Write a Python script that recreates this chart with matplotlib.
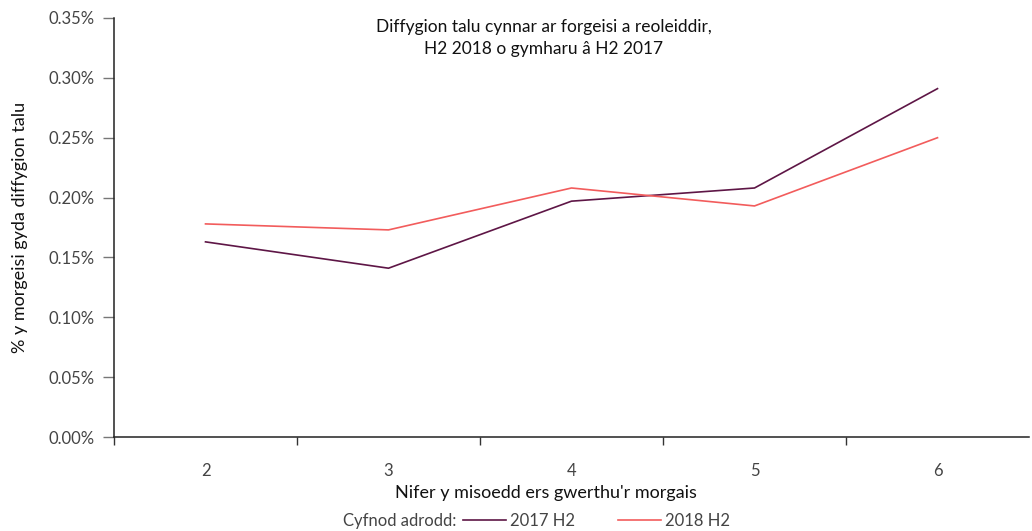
import matplotlib.pyplot as plt
import matplotlib.ticker as mticker
import numpy as np

months = ['2', '3', '4', '5', '6']
arrears_2017 = [0.163, 0.141, 0.197, 0.208, 0.291]
arrears_2018 = [0.178, 0.173, 0.208, 0.193, 0.250]

plt.rcParams['font.family'] = ['Lato', 'DejaVu Sans']

fig = plt.figure(figsize=(10.32, 5.31), dpi=100)
ax = fig.add_axes([114 / 1032, 1 - 437 / 531, (1029 - 114) / 1032, (437 - 18) / 531])

x = np.arange(len(months))
l1, = ax.plot(x, arrears_2017, color='#5e1646', lw=1.2)
l2, = ax.plot(x, arrears_2018, color='#f25c5c', lw=1.2)

ax.set_xlim(-0.5, 4.5)
ax.set_ylim(0, 0.35)
ax.yaxis.set_major_locator(mticker.MultipleLocator(0.05))
ax.yaxis.set_major_formatter(mticker.FuncFormatter(lambda v, p: f'{v:.2f}%'))

ax.set_xticks(x)
ax.set_xticklabels(months)
ax.set_xticks(np.arange(-0.5, 4.0, 1.0), minor=True)
ax.tick_params(axis='x', which='major', length=0, pad=19, labelsize=12, labelcolor='#444444')
ax.tick_params(axis='x', which='minor', length=6, width=1, color='#333333', direction='out')
ax.tick_params(axis='y', length=8, width=1, color='#777777', labelsize=12, labelcolor='#444444', pad=6)

for s in ['top', 'right']:
    ax.spines[s].set_visible(False)
for s in ['left', 'bottom']:
    ax.spines[s].set_color('#222222')
    ax.spines[s].set_linewidth(1.1)

ax.set_ylabel('% y morgeisi gyda diffygion talu', fontsize=13, color='#111111')
ax.yaxis.set_label_coords(-(114 - 28) / 915, 0.5)
ax.set_xlabel("Nifer y misoedd ers gwerthu'r morgais", fontsize=13, color='#111111')
ax.xaxis.set_label_coords((546 - 114) / 915, -(485 - 437) / 419)

fig.text(544 / 1032, 1 - 38 / 531, 'Diffygion talu cynnar ar forgeisi a reoleiddir,\nH2 2018 o gymharu â H2 2017',
         ha='center', va='center', fontsize=12.5, color='#111111', linespacing=1.45)

fig.text(456 / 1032, 1 - 521 / 531, 'Cyfnod adrodd:', ha='right', va='center', fontsize=12, color='#444444')
leg = fig.legend([l1, l2], ['2017 H2', '2018 H2'], loc='center left',
                 bbox_to_anchor=(463 / 1032, 1 - 521 / 531), ncol=2, frameon=False,
                 fontsize=12, handlelength=2.6, handletextpad=0.2, columnspacing=2.6,
                 borderpad=0, borderaxespad=0)
for t in leg.get_texts():
    t.set_color('#444444')

fig.savefig('out.png', dpi=100)
